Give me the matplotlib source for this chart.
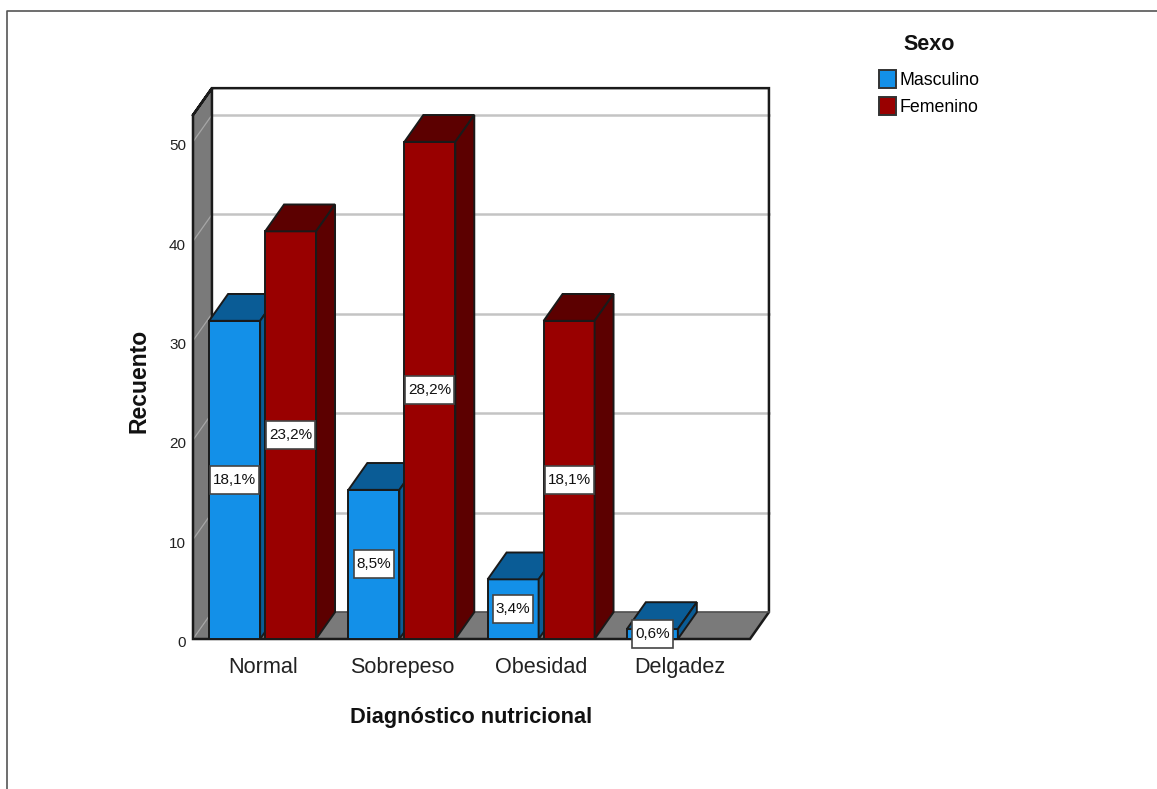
"""bar chart of nutritional diagnosis by sex, drawn with a 3d look"""
import matplotlib
matplotlib.use("Agg")
import matplotlib.pyplot as plt
from matplotlib.lines import Line2D
from matplotlib.patches import Patch, Polygon
from matplotlib.path import Path
from matplotlib.transforms import ScaledTranslation

categories = ["Normal", "Sobrepeso", "Obesidad", "Delgadez"]
masculino = [32, 15, 6, 1]
femenino = [41, 50, 32, 0]
masculino_pct = ["18,1%", "8,5%", "3,4%", "0,6%"]
femenino_pct = ["23,2%", "28,2%", "18,1%", ""]
y_ticks = [0, 10, 20, 30, 40, 50]
series_names = ["Masculino", "Femenino"]

BLUE = "#1390e8"
BLUE_DARK = "#0a5c96"
RED = "#990000"
RED_DARK = "#5c0000"
WALL = "#7a7a7a"
GRID = "#c4c4c4"
EDGE = "#1a1a1a"

# depth of the box in data units
DX = 0.136
DY = 2.7
Y_TOP = 52.7
WIDTH = 0.366
OFFSET = 0.201
FONT = "Liberation Sans"


def label_box(x, y, width, height, mutation_size):
    """box around a value label, wider padding up and down than at the sides"""
    pad_x = 3.0
    pad_y = 14.0 - height / 2
    x0, x1 = x - pad_x, x + width + pad_x
    y0, y1 = y - pad_y, y + height + pad_y
    return Path([(x0, y0), (x1, y0), (x1, y1), (x0, y1), (x0, y0)], closed=True)


def draw_walls(ax):
    """left wall, floor, back wall and grid"""
    x0, x1 = ax.get_xlim()
    ax.add_patch(Polygon([(x0 + DX, DY), (x1 + DX, DY), (x1 + DX, Y_TOP + DY), (x0 + DX, Y_TOP + DY)],
                         fc="white", ec="none", clip_on=False, zorder=1))
    ax.add_patch(Polygon([(x0, 0), (x0 + DX, DY), (x0 + DX, Y_TOP + DY), (x0, Y_TOP)],
                         fc=WALL, ec="none", clip_on=False, zorder=1))
    ax.add_patch(Polygon([(x0, 0), (x1, 0), (x1 + DX, DY), (x0 + DX, DY)],
                         fc=WALL, ec="none", clip_on=False, zorder=1))
    for val in y_ticks[1:]:
        ax.plot([x0 + DX, x1 + DX], [val + DY, val + DY], c=GRID, lw=1.8, clip_on=False, zorder=2)
        ax.plot([x0, x0 + DX], [val, val + DY], c="#a6a6a6", lw=0.9, clip_on=False, zorder=2)
    ax.plot([x0, x0 + DX], [0, DY], c="#a6a6a6", lw=0.9, clip_on=False, zorder=2)
    # frame of the box
    ax.plot([x0, x0 + DX, x1 + DX, x1 + DX, x1, x0, x0, x0 + DX, x0 + DX],
            [Y_TOP, Y_TOP + DY, Y_TOP + DY, DY, 0, 0, Y_TOP, Y_TOP + DY, DY],
            c=EDGE, lw=1.8, clip_on=False, zorder=3, solid_joinstyle="miter")
    ax.plot([x0 + DX, x1 + DX], [DY, DY], c="#4d4d4d", lw=1.2, clip_on=False, zorder=3)


def draw_bar(ax, x, value, front, dark, order):
    """front face with top and side faces"""
    left = x - WIDTH / 2
    right = x + WIDTH / 2
    ax.bar(x, value, WIDTH, color=front, edgecolor=EDGE, linewidth=1.4, zorder=order, clip_on=False)
    ax.add_patch(Polygon([(left, value), (right, value), (right + DX, value + DY), (left + DX, value + DY)],
                         fc=dark, ec=EDGE, lw=1.4, clip_on=False, zorder=order))
    ax.add_patch(Polygon([(right, 0), (right + DX, DY), (right + DX, value + DY), (right, value)],
                         fc=dark, ec=EDGE, lw=1.4, clip_on=False, zorder=order))


def draw_label(ax, x, value, text):
    ax.text(x, value / 2, text, ha="center", va="center", fontsize=11, family=FONT,
            color="#111111", zorder=20, clip_on=False,
            bbox=dict(boxstyle=label_box, fc="white", ec="#444444", lw=1.2))


def main():
    fig = plt.figure(figsize=(11.57, 7.89), dpi=100)
    ax = fig.add_axes([193 / 1157, 1 - 639 / 789, 557 / 1157, 524 / 789])
    ax.set_xlim(-0.5, 3.5)
    ax.set_ylim(0, Y_TOP)
    for spine in ax.spines.values():
        spine.set_visible(False)
    ax.patch.set_visible(False)

    draw_walls(ax)
    for it, _ in enumerate(categories):
        order = 4 + 2 * it
        if masculino[it] > 0:
            draw_bar(ax, it - OFFSET, masculino[it], BLUE, BLUE_DARK, order)
            draw_label(ax, it - OFFSET, masculino[it], masculino_pct[it])
        if femenino[it] > 0:
            draw_bar(ax, it + OFFSET, femenino[it], RED, RED_DARK, order + 1)
            draw_label(ax, it + OFFSET, femenino[it], femenino_pct[it])

    ax.set_xticks(range(len(categories)))
    ax.set_xticklabels(categories, fontsize=15.6, family=FONT, color="#222222")
    ax.set_yticks(y_ticks)
    ax.set_yticklabels([str(v) for v in y_ticks], fontsize=11, family=FONT, color="#222222")
    ax.tick_params(axis="x", length=0, pad=13)
    ax.tick_params(axis="y", length=0, pad=5)
    # y tick numbers sit a little under their level
    shift = ScaledTranslation(0, -2 / 72, fig.dpi_scale_trans)
    for label in ax.get_yticklabels():
        label.set_transform(label.get_transform() + shift)

    fig.text(471 / 1157, 1 - 718 / 789, "Diagnóstico nutricional", ha="center", va="center",
             fontsize=15.7, fontweight="bold", family=FONT, color="#111111")
    fig.text(139 / 1157, 1 - 381 / 789, "Recuento", ha="center", va="center", rotation=90,
             fontsize=16.5, fontweight="bold", family=FONT, color="#111111")

    handles = [Patch(fc=BLUE, ec="#333333", lw=1.4), Patch(fc=RED, ec="#333333", lw=1.4)]
    leg = fig.legend(handles, series_names, title="Sexo", loc="upper left",
                     bbox_to_anchor=(879 / 1157, 1 - 34 / 789), frameon=False,
                     handlelength=0.95, handleheight=1.15, handletextpad=0.23, labelspacing=0.47,
                     borderpad=0, borderaxespad=0,
                     prop={"family": FONT, "size": 12.8},
                     title_fontproperties={"family": FONT, "size": 15.5, "weight": "bold"})
    leg.get_title().set_color("#111111")
    leg._legend_box.sep = 11

    # thin frame at the top and left of the canvas
    fig.add_artist(Line2D([7 / 1157, 7 / 1157, 1], [0, 1 - 11 / 789, 1 - 11 / 789], c="#555555", lw=1.2))

    fig.savefig("out.png", dpi=100)
    plt.close(fig)


main()
